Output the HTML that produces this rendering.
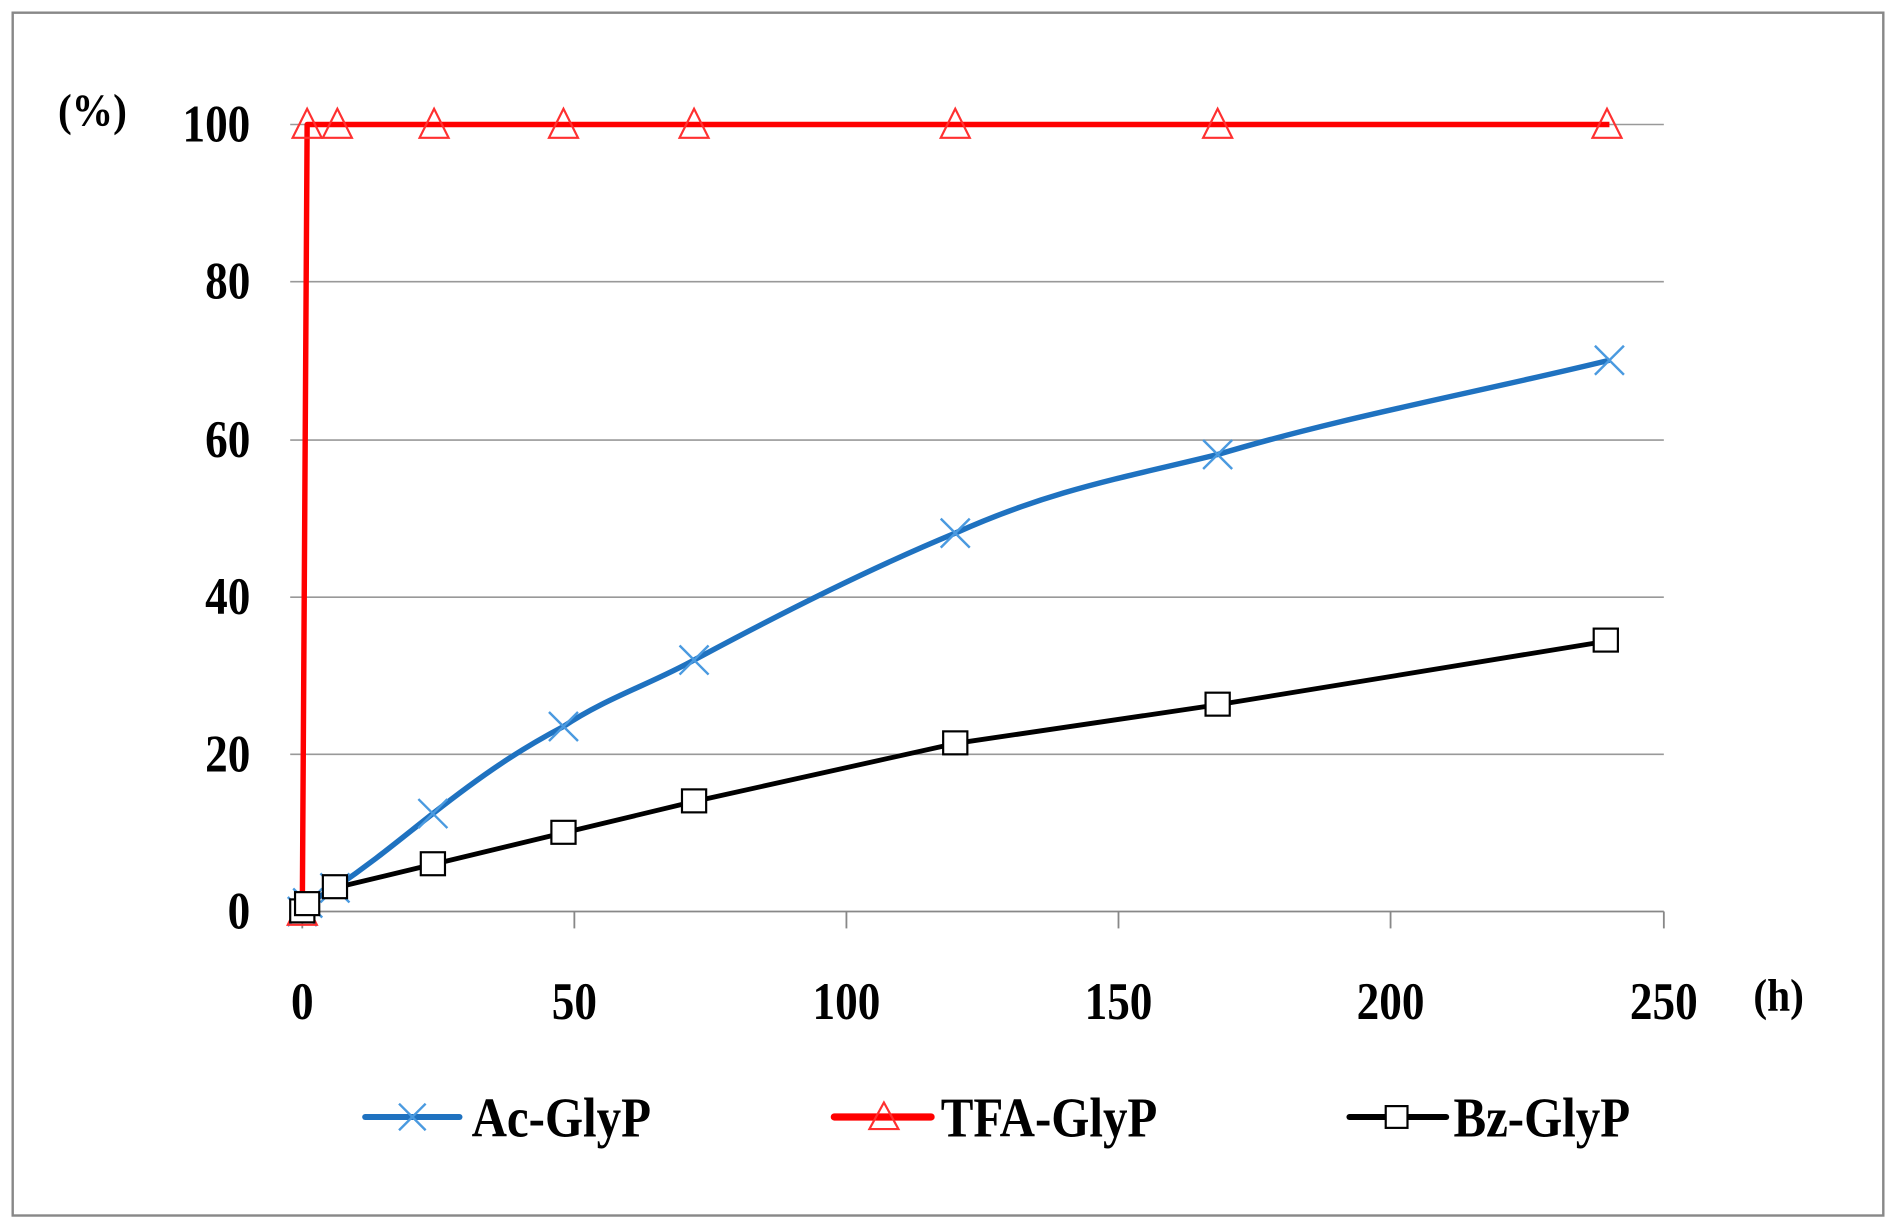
<!DOCTYPE html>
<html><head><meta charset="utf-8"><style>
html,body{margin:0;padding:0;background:#fff;width:1896px;height:1227px;overflow:hidden}
svg{display:block}
text{font-family:"Liberation Serif",serif;font-weight:bold;fill:#000}
</style></head><body>
<svg width="1896" height="1227" viewBox="0 0 1568 1015" preserveAspectRatio="none" xmlns="http://www.w3.org/2000/svg">
<rect x="10.5" y="10.5" width="1547" height="995" fill="#fff" stroke="#888" stroke-width="2"/>
<g stroke="#999" stroke-width="1.3">
<line x1="240" y1="103" x2="1376" y2="103"/>
<line x1="240" y1="233" x2="1376" y2="233"/>
<line x1="240" y1="364" x2="1376" y2="364"/>
<line x1="240" y1="494" x2="1376" y2="494"/>
<line x1="240" y1="624" x2="1376" y2="624"/>
</g>
<g stroke="#888" stroke-width="1.5">
<line x1="240" y1="754" x2="1376" y2="754"/>
<line x1="250" y1="754" x2="250" y2="768"/>
<line x1="475" y1="754" x2="475" y2="768"/>
<line x1="700" y1="754" x2="700" y2="768"/>
<line x1="925" y1="754" x2="925" y2="768"/>
<line x1="1150" y1="754" x2="1150" y2="768"/>
<line x1="1376" y1="754" x2="1376" y2="768"/>
</g>
<g font-size="44" text-anchor="end">
<text transform="translate(207,117) scale(0.85,1)">100</text>
<text transform="translate(207,247) scale(0.85,1)">80</text>
<text transform="translate(207,378) scale(0.85,1)">60</text>
<text transform="translate(207,508) scale(0.85,1)">40</text>
<text transform="translate(207,638) scale(0.85,1)">20</text>
<text transform="translate(207,768) scale(0.85,1)">0</text>
</g>
<text transform="translate(48,104) scale(0.9,1)" font-size="38">(%)</text>
<g font-size="44" text-anchor="middle">
<text transform="translate(250,843) scale(0.85,1)">0</text>
<text transform="translate(475,843) scale(0.85,1)">50</text>
<text transform="translate(700,843) scale(0.85,1)">100</text>
<text transform="translate(925,843) scale(0.85,1)">150</text>
<text transform="translate(1150,843) scale(0.85,1)">200</text>
<text transform="translate(1376,843) scale(0.85,1)">250</text>
</g>
<text transform="translate(1450,836) scale(0.9,1)" font-size="38">(h)</text>

<polyline fill="none" stroke="#000" stroke-width="4" stroke-linejoin="round" points="250,754 254.5,747 277,734.5 358,715 466,689 574,663 790,615 1007,583 1331,530"/>
<path fill="none" stroke="#1f72c0" stroke-width="4.5" stroke-linejoin="round" d="M250,754 L254.5,747 L277,734.5 C310,712 330,695 358,673 C400,640 430,620 466,601 C500,578 540,565 574,546 C650,505 720,470 790,441 C870,405 930,395 1007,376 C1110,345 1220,325 1331,298"/>
<polyline fill="none" stroke="#ff0000" stroke-width="4.5" stroke-linejoin="round" points="250,754 254,103 1331,103"/>

<g stroke="#4a9ae0" stroke-width="2" fill="none">
<path d="M238,742 l24,24 M262,742 l-24,24"/>
<path d="M242.5,735 l24,24 M266.5,735 l-24,24"/>
<path d="M265,722.5 l24,24 M289,722.5 l-24,24"/>
<path d="M346,661 l24,24 M370,661 l-24,24"/>
<path d="M454,589 l24,24 M478,589 l-24,24"/>
<path d="M562,534 l24,24 M586,534 l-24,24"/>
<path d="M778,429 l24,24 M802,429 l-24,24"/>
<path d="M995,364 l24,24 M1019,364 l-24,24"/>
<path d="M1319,286 l24,24 M1343,286 l-24,24"/>
</g>
<g stroke="#ff3030" stroke-width="1.8" fill="none">
<path d="M250,741 l-12,24 h24 z"/>
<path d="M254,90 l-12,24 h24 z"/>
<path d="M279,90 l-12,24 h24 z"/>
<path d="M359,90 l-12,24 h24 z"/>
<path d="M466,90 l-12,24 h24 z"/>
<path d="M574,90 l-12,24 h24 z"/>
<path d="M790,90 l-12,24 h24 z"/>
<path d="M1007,90 l-12,24 h24 z"/>
<path d="M1329,90 l-12,24 h24 z"/>
</g>
<g stroke="#000" stroke-width="1.8" fill="#fff">
<rect x="240" y="744" width="20" height="19"/>
<rect x="244" y="738" width="20" height="19"/>
<rect x="267" y="724" width="20" height="19"/>
<rect x="348" y="705" width="20" height="19"/>
<rect x="456" y="679" width="20" height="19"/>
<rect x="564" y="653" width="20" height="19"/>
<rect x="780" y="605" width="20" height="19"/>
<rect x="997" y="573" width="20" height="19"/>
<rect x="1318" y="520" width="20" height="19"/>
</g>

<line x1="302" y1="924" x2="380" y2="924" stroke="#1f72c0" stroke-width="5" stroke-linecap="round"/>
<path d="M330,913 l22,22 M352,913 l-22,22" stroke="#4a9ae0" stroke-width="2"/>
<text transform="translate(390,940) scale(0.88,1)" font-size="46">Ac-GlyP</text>
<line x1="690" y1="924" x2="770" y2="924" stroke="#ff0000" stroke-width="6" stroke-linecap="round"/>
<path d="M731,912 l-12,22 h24 z" stroke="#ff3030" stroke-width="1.8" fill="none"/>
<text transform="translate(778,940) scale(0.88,1)" font-size="46">TFA-GlyP</text>
<line x1="1116" y1="924" x2="1196" y2="924" stroke="#000" stroke-width="5" stroke-linecap="round"/>
<rect x="1146" y="915" width="18" height="18" stroke="#000" stroke-width="1.8" fill="#fff"/>
<text transform="translate(1202,940) scale(0.88,1)" font-size="46">Bz-GlyP</text>
</svg>
</body></html>
